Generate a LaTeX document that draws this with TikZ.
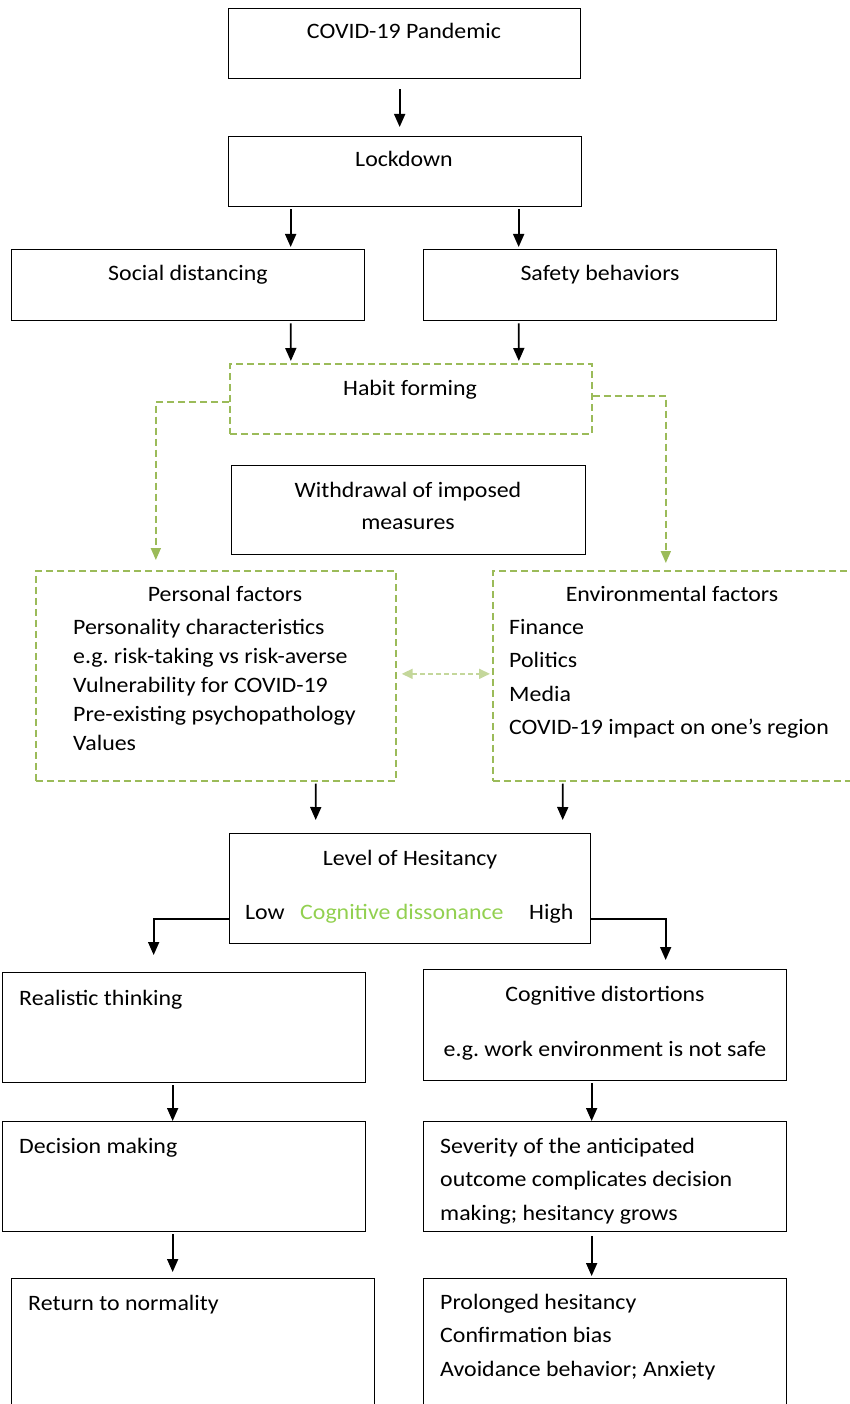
\documentclass[tikz,border=0pt]{standalone}
\usepackage{fontspec}
\setmainfont{Carlito}[FakeStretch=1.085]
\frenchspacing
\usetikzlibrary{arrows.meta,positioning}
\definecolor{habitgreen}{RGB}{155,187,89}
\definecolor{dissgreen}{RGB}{146,208,80}
\definecolor{linkgreen}{RGB}{196,215,155}

\begin{document}
\begin{tikzpicture}[x=1pt, y=-1pt, every node/.style={font=\fontsize{22}{33.5}\selectfont, inner sep=0pt},
  box/.style={draw, line width=1.3pt, anchor=north west},
  greenbox/.style={draw=habitgreen, line width=1.7pt, dash pattern=on 7pt off 4pt, anchor=north west},
  arr/.style={line width=1.7pt, -{Triangle[length=13pt,width=11pt]}},
  greenarr/.style={habitgreen, line width=1.7pt, dash pattern=on 7pt off 4pt, -{Triangle[length=12pt,width=10pt]}},
  linkarr/.style={linkgreen, line width=1.7pt, dash pattern=on 5pt off 3pt, {Triangle[length=11pt,width=10pt]}-{Triangle[length=11pt,width=10pt]}}]
\useasboundingbox (0,0) rectangle (850,1404);
\clip (0,0) rectangle (850,1404);
\node[box, minimum width=352pt, minimum height=70pt] (covid) at (228,8) {};
\node[box, minimum width=353pt, minimum height=70pt] (lock) at (228,136) {};
\node[box, minimum width=353pt, minimum height=71pt] (social) at (11,249) {};
\node[box, minimum width=353pt, minimum height=71pt] (safety) at (423,249) {};
\node[greenbox, minimum width=362pt, minimum height=70pt] (habit) at (229,363) {};
\node[box, minimum width=354pt, minimum height=89pt] (withdraw) at (231,465) {};
\node[greenbox, minimum width=360pt, minimum height=210pt] (personal) at (35,570) {};
\node[greenbox, minimum width=380pt, minimum height=210pt] (env) at (492,570) {};
\node[box, minimum width=361pt, minimum height=110pt] (level) at (229,833) {};
\node[box, minimum width=363pt, minimum height=110pt] (real) at (2,972) {};
\node[box, minimum width=363pt, minimum height=111pt] (distort) at (423,969) {};
\node[box, minimum width=363pt, minimum height=110pt] (decide) at (2,1121) {};
\node[box, minimum width=363pt, minimum height=110pt] (severe) at (423,1121) {};
\node[box, minimum width=363pt, minimum height=160pt] (normal) at (11,1278) {};
\node[box, minimum width=363pt, minimum height=160pt] (prolong) at (423,1278) {};

\node[anchor=base] (covidtxt) at (404,38.5) {COVID-19 Pandemic};
\node[anchor=base] (locktxt) at (404,166.5) {Lockdown};
\node[anchor=base] (socialtxt) at (188,280.5) {Social distancing};
\node[anchor=base] (safetytxt) at (600,280.5) {Safety behaviors};
\node[anchor=base] (habittxt) at (410,395.5) {Habit forming};
\node[anchor=north, align=center, font=\fontsize{22}{32}\selectfont] (withdrawtxt) at (408,482) {Withdrawal of imposed\\measures};
\node[anchor=base] (perstitle) at (225,601.5) {Personal factors};
\node[anchor=north west, align=left, font=\fontsize{22}{29}\selectfont] (perslist) at (73,619)
  {Personality characteristics\\e.g. risk-taking vs risk-averse\\Vulnerability for COVID-19\\Pre-existing psychopathology\\Values};
\node[anchor=base] (envtitle) at (672,601.5) {Environmental factors};
\node[anchor=north west, align=left] (envlist) at (509,619)
  {Finance\\Politics\\Media\\COVID-19 impact on one’s region};
\node[anchor=base] (leveltxt) at (410,865.5) {Level of Hesitancy};
\node[anchor=base west] (lowtxt) at (245,919.5) {Low};
\node[anchor=base west, text=dissgreen] (disstxt) at (300,919.5) {Cognitive dissonance};
\node[anchor=base west] (hightxt) at (529,919.5) {High};
\node[anchor=base west] (realtxt) at (19,1005.5) {Realistic thinking};
\node[anchor=base] (distorttxt) at (605,1001.5) {Cognitive distortions};
\node[anchor=base] (distortex) at (605,1056.5) {e.g. work environment is not safe};
\node[anchor=base west] (decidetxt) at (19,1153.5) {Decision making};
\node[anchor=north west, align=left] (severetxt) at (440,1138)
  {Severity of the anticipated\\outcome complicates decision\\making; hesitancy grows};
\node[anchor=base west] (normaltxt) at (28,1310.5) {Return to normality};
\node[anchor=north west, align=left] (prolongtxt) at (440,1294)
  {Prolonged hesitancy\\Confirmation bias\\Avoidance behavior; Anxiety};

\draw[arr, shorten <=10pt, shorten >=9pt] ([xshift=-5pt]covid.south) -- ([xshift=-5.5pt]lock.north);
\draw[arr, shorten <=2pt, shorten >=2pt] ([xshift=-114.5pt]lock.south) -- ([xshift=102.5pt]social.north);
\draw[arr, shorten <=2pt, shorten >=2pt] ([xshift=113.5pt]lock.south) -- ([xshift=-81.5pt]safety.north);
\draw[arr, shorten <=2pt, shorten >=2pt] ([xshift=102.5pt]social.south) -- ([xshift=-120pt]habit.north);
\draw[arr, shorten <=2pt, shorten >=2pt] ([xshift=-81.5pt]safety.south) -- ([xshift=108pt]habit.north);
\draw[greenarr, shorten >=10pt] ([yshift=-3pt]habit.west) -| ([xshift=-60pt]personal.north);
\draw[greenarr, shorten >=7pt] ([yshift=3pt]habit.east) -| ([xshift=-17pt]env.north);
\draw[linkarr, shorten <=5pt, shorten >=2pt] ([yshift=2pt]personal.east) -- ([yshift=2pt]env.west);
\draw[arr, shorten <=2pt, shorten >=13pt] ([xshift=100pt]personal.south) -- ([xshift=-94.5pt]level.north);
\draw[arr, shorten <=2pt, shorten >=13pt] ([xshift=-120pt]env.south) -- ([xshift=152.5pt]level.north);
\draw[arr, shorten >=17pt] ([yshift=-30pt]level.west) -| ([xshift=-30.5pt]real.north);
\draw[arr, shorten >=9pt] ([yshift=-30pt]level.east) -| ([xshift=60.5pt]distort.north);
\draw[arr, shorten <=2pt] ([xshift=-11.5pt]real.south) -- ([xshift=-11.5pt]decide.north);
\draw[arr, shorten <=2pt] ([xshift=-13.5pt]distort.south) -- ([xshift=-13.5pt]severe.north);
\draw[arr, shorten <=2pt, shorten >=6pt] ([xshift=-11.5pt]decide.south) -- ([xshift=-20.5pt]normal.north);
\draw[arr, shorten <=4pt, shorten >=2pt] ([xshift=-13.5pt]severe.south) -- ([xshift=-13.5pt]prolong.north);
\end{tikzpicture}
\end{document}
